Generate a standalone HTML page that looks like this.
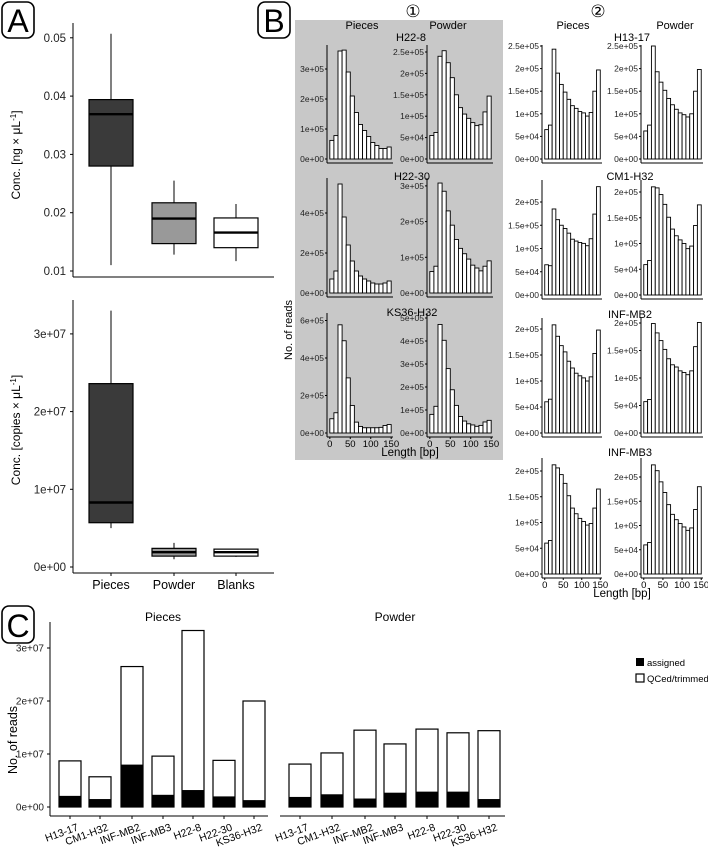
<!DOCTYPE html>
<html><head><meta charset="utf-8"><style>
html,body{margin:0;padding:0;background:#fff;}
svg{display:block;font-family:"Liberation Sans",sans-serif;}
</style></head><body>
<svg id="fig" width="708" height="851" viewBox="0 0 708 851" xmlns="http://www.w3.org/2000/svg">
<rect x="0" y="0" width="708" height="851" fill="#fff"/>
<rect x="295" y="20" width="208" height="440" fill="#c8c8c8"/>
<g><rect x="2" y="2" width="32" height="36" rx="7" fill="#fff" stroke="#000" stroke-width="1.6"/><text x="18" y="32" font-size="32" text-anchor="middle">A</text></g>
<g><rect x="258" y="2" width="32" height="36" rx="7" fill="#fff" stroke="#000" stroke-width="1.6"/><text x="274" y="32" font-size="32" text-anchor="middle">B</text></g>
<g><rect x="2" y="606" width="32" height="37" rx="7" fill="#fff" stroke="#000" stroke-width="1.6"/><text x="18" y="637" font-size="32" text-anchor="middle">C</text></g>
<text x="413" y="17" font-size="17" text-anchor="middle">①</text>
<text x="598" y="17" font-size="17" text-anchor="middle">②</text>
<g id="A"></g><g id="B"></g><g id="C"></g>
</svg>
<script>
// ---------- Panel A data ----------
const boxCats = ["Pieces","Powder","Blanks"];
const concMin = [0.011,0.0128,0.0117];
const concQ1 = [0.028,0.0147,0.014];
const concMed = [0.0369,0.019,0.0166];
const concQ3 = [0.0394,0.0217,0.0191];
const concMax = [0.0507,0.0255,0.0215];
const concTicks = [0.01,0.02,0.03,0.04,0.05];
const copMin = [5.0e6,1.0e6,1.3e6];
const copQ1 = [5.7e6,1.4e6,1.4e6];
const copMed = [8.3e6,1.9e6,1.9e6];
const copQ3 = [2.36e7,2.4e6,2.3e6];
const copMax = [3.3e7,3.1e6,2.3e6];
const copTicks = [0,1e7,2e7,3e7];
const copTickLabels = ["0e+00","1e+07","2e+07","3e+07"];
// ---------- Panel B data (thousands of reads per 10 bp bin) ----------
const lenTicks = [0,50,100,150];
const h22_8_pieces = [62,78,360,363,290,210,155,115,95,75,55,45,35,35,40];
const h22_8_powder = [55,62,240,253,225,190,150,120,105,95,85,78,80,110,147];
const h22_30_pieces = [70,110,545,380,240,160,110,85,70,60,50,45,45,50,60];
const h22_30_powder = [60,75,308,285,230,190,150,125,110,95,78,70,62,75,90];
const ks36_pieces = [76,108,577,492,294,147,58,35,28,28,28,28,30,40,45];
const ks36_powder = [81,116,472,403,280,188,120,72,52,40,35,29,33,48,55];
const h13_pieces = [65,75,243,190,165,148,132,118,112,105,102,95,103,150,197];
const h13_powder = [62,75,250,193,170,152,134,120,110,102,98,93,100,150,198];
const cm1_pieces = [65,63,185,162,150,143,133,120,116,113,111,106,121,174,233];
const cm1_powder = [59,67,210,208,195,176,151,128,115,107,100,90,95,135,175];
const mb2_pieces = [60,65,208,186,168,156,138,125,115,110,106,100,108,153,198];
const mb2_powder = [57,61,199,182,168,152,135,124,120,113,110,106,113,157,201];
const mb3_pieces = [60,65,212,206,193,176,152,128,117,108,102,95,98,128,165];
const mb3_powder = [60,65,225,213,190,168,143,123,112,104,97,90,95,133,180];
// ---------- Panel C data ----------
const samples = ["H13-17","CM1-H32","INF-MB2","INF-MB3","H22-8","H22-30","KS36-H32"];
const piecesTotal = [8.7e6,5.7e6,2.65e7,9.6e6,3.33e7,8.8e6,2.0e7];
const piecesAssigned = [2.1e6,1.5e6,8.0e6,2.3e6,3.2e6,2.0e6,1.3e6];
const powderTotal = [8.1e6,10.2e6,14.5e6,11.9e6,14.7e6,14.0e6,14.4e6];
const powderAssigned = [1.9e6,2.4e6,1.6e6,2.7e6,2.9e6,2.9e6,1.5e6];
const readTicks = [0,1e7,2e7,3e7];
const readTickLabels = ["0e+00","1e+07","2e+07","3e+07"];

const NS="http://www.w3.org/2000/svg";
function mk(parent,tag,attrs,txt){const e=document.createElementNS(NS,tag);for(const k in attrs)e.setAttribute(k,attrs[k]);if(txt!==undefined)e.textContent=txt;parent.appendChild(e);return e;}

// ---------- Panel A ----------
const A=document.getElementById('A');
function boxplot(g,yScale,mn,q1,md,q3,mx,fills,names){
  const cx=[111,174,236];
  for(let i=0;i<3;i++){
    const w=mk(g,'line',{x1:cx[i],x2:cx[i],y1:yScale(mx[i]),y2:yScale(mn[i]),stroke:'#000','stroke-width':1});
    
    
    const b=mk(g,'rect',{x:cx[i]-22,y:yScale(q3[i]),width:44,height:yScale(q1[i])-yScale(q3[i]),fill:fills[i],stroke:'#000','stroke-width':1.2});
    
    
    const m=mk(g,'line',{x1:cx[i]-22,x2:cx[i]+22,y1:yScale(md[i]),y2:yScale(md[i]),stroke:'#000','stroke-width':2.4});
    
    
  }
}
const fills=['#3a3a3a','#999999','#ffffff'];
const yConc=v=>271-(v-0.01)*5830;
mk(A,'line',{x1:73,x2:73,y1:23,y2:277,stroke:'#000'});
mk(A,'line',{x1:73,x2:274,y1:277,y2:277,stroke:'#000'});
concTicks.forEach(t=>{mk(A,'line',{x1:70,x2:73,y1:yConc(t),y2:yConc(t),stroke:'#000'});
  const l=mk(A,'text',{x:66,y:yConc(t)+4,'font-size':11.5,'text-anchor':'end',fill:'#222'},t.toFixed(2));
  });
boxplot(A,yConc,concMin,concQ1,concMed,concQ3,concMax,fills,'conc');
const t1=mk(A,'text',{x:0,y:0,'font-size':12,'text-anchor':'middle',transform:'translate(20,155) rotate(-90)'});
t1.innerHTML='Conc. [ng × μL<tspan dy="-4" font-size="8">-1</tspan><tspan dy="4">]</tspan>';


const yCop=v=>567-v*7.77e-6;
mk(A,'line',{x1:73,x2:73,y1:300,y2:573,stroke:'#000'});
mk(A,'line',{x1:73,x2:274,y1:573,y2:573,stroke:'#000'});
copTicks.forEach((t,i)=>{mk(A,'line',{x1:70,x2:73,y1:yCop(t),y2:yCop(t),stroke:'#000'});
  const l=mk(A,'text',{x:66,y:yCop(t)+4,'font-size':11.5,'text-anchor':'end',fill:'#222'},copTickLabels[i]);
  });
boxplot(A,yCop,copMin,copQ1,copMed,copQ3,copMax,fills,'copies');
[111,174,236].forEach((x,i)=>{mk(A,'line',{x1:x,x2:x,y1:573,y2:576,stroke:'#000'});
  const l=mk(A,'text',{x:x,y:589,'font-size':12.5,'text-anchor':'middle'},boxCats[i]);
  });
const t2=mk(A,'text',{x:0,y:0,'font-size':12,'text-anchor':'middle',transform:'translate(20,430) rotate(-90)'});
t2.innerHTML='Conc. [copies × μL<tspan dy="-4" font-size="8">-1</tspan><tspan dy="4">]</tspan>';


// ---------- Panel B ----------
const B=document.getElementById('B');
function fmt(v){if(v===0)return '0e+00';let e=Math.floor(Math.log10(v)+1e-9);let m=v/Math.pow(10,e);m=Math.round(m*10)/10;return m+'e+'+String(e).padStart(2,'0');}
function hist(name,data,x0,W,zeroY,topY,pxPer1e5,tickStep,showX){
  const g=mk(B,'g',{});
  
  
  const xs=bp=>x0+2+(bp+2)*(W-3)/154;
  const ys=k=>zeroY-k*1000*pxPer1e5/1e5;
  mk(g,'line',{x1:x0,x2:x0,y1:topY,y2:zeroY+4,stroke:'#000','stroke-width':1});
  mk(g,'line',{x1:x0,x2:x0+W,y1:zeroY+4,y2:zeroY+4,stroke:'#000','stroke-width':1});
  data.forEach((v,i)=>{
    const r=mk(g,'rect',{x:xs(i*10),y:ys(v),width:xs(10)-xs(0),height:zeroY-ys(v),fill:'#fff',stroke:'#000','stroke-width':0.9});
    
    
  });
  const maxv=(zeroY-topY)/pxPer1e5*1e5;
  for(let t=0;t<=maxv+1;t+=tickStep){
    const y=zeroY-t*pxPer1e5/1e5;
    mk(g,'line',{x1:x0-2,x2:x0,y1:y,y2:y,stroke:'#000'});
    mk(g,'text',{x:x0-3,y:y+3,'font-size':8.5,'text-anchor':'end',fill:'#222'},fmt(t));
  }
  if(showX){lenTicks.forEach(t=>{const x=xs(t);mk(g,'line',{x1:x,x2:x,y1:zeroY+4,y2:zeroY+6,stroke:'#000'});
    mk(g,'text',{x:x,y:zeroY+14,'font-size':9.5,'text-anchor':'middle'},t);});}
}
hist('h22-8-pieces',h22_8_pieces,327,66,159,45,30,1e5,false);
hist('h22-8-powder',h22_8_powder,427,66,159,45,42.8,5e4,false);
hist('h22-30-pieces',h22_30_pieces,327,66,293,178,20,2e5,false);
hist('h22-30-powder',h22_30_powder,427,66,293,178,35.7,1e5,false);
hist('ks36-h32-pieces',ks36_pieces,327,66,433,313,18.75,2e5,true);
hist('ks36-h32-powder',ks36_powder,427,66,433,313,23,1e5,true);
hist('h13-17-pieces',h13_pieces,542,60,159,45,45.2,5e4,false);
hist('h13-17-powder',h13_powder,641,62,159,45,45.2,5e4,false);
hist('cm1-h32-pieces',cm1_pieces,542,60,295,180,46.5,5e4,false);
hist('cm1-h32-powder',cm1_powder,641,62,295,180,51.5,5e4,false);
hist('inf-mb2-pieces',mb2_pieces,542,60,433,318,52,5e4,false);
hist('inf-mb2-powder',mb2_powder,641,62,433,318,55,5e4,false);
hist('inf-mb3-pieces',mb3_pieces,542,60,574,458,51.5,5e4,true);
hist('inf-mb3-powder',mb3_powder,641,62,574,458,48.5,5e4,true);
const bt=[["Pieces",362,29],["Powder",448,29],["Pieces",573,29],["Powder",675,29],
  ["H22-8",411,41],["H22-30",412,180],["KS36-H32",412,316],["H13-17",632,41],["CM1-H32",630,180],["INF-MB2",630,318],["INF-MB3",630,456],
  ["Length [bp]",410,456],["Length [bp]",622,597]];
bt.forEach(([s,x,y])=>{const t=mk(B,'text',{x:x,y:y,'font-size':s.startsWith('Length')?11.5:11,'text-anchor':'middle'},s);
  });
const nr=mk(B,'text',{x:0,y:0,'font-size':11,'text-anchor':'middle',transform:'translate(292,330) rotate(-90)'},'No. of reads');


// ---------- Panel C ----------
const C=document.getElementById('C');
const yR=v=>807-v*5.3e-6;
mk(C,'line',{x1:50,x2:50,y1:622,y2:816,stroke:'#000'});
mk(C,'line',{x1:50,x2:268,y1:816,y2:816,stroke:'#000'});
mk(C,'line',{x1:280,x2:505,y1:816,y2:816,stroke:'#000'});
readTicks.forEach((t,i)=>{mk(C,'line',{x1:47,x2:50,y1:yR(t),y2:yR(t),stroke:'#000'});
  const l=mk(C,'text',{x:44,y:yR(t)+3.5,'font-size':10,'text-anchor':'end',fill:'#222'},readTickLabels[i]);
  });
function stack(tot,asg,cx,grp){
  samples.forEach((s,i)=>{
    const w=mk(C,'rect',{x:cx[i]-11,y:yR(tot[i]),width:22,height:yR(0)-yR(tot[i]),fill:'#fff',stroke:'#000','stroke-width':1.2});
    
    
    const a=mk(C,'rect',{x:cx[i]-11,y:yR(asg[i]),width:22,height:yR(0)-yR(asg[i]),fill:'#000'});
    
    
    mk(C,'line',{x1:cx[i],x2:cx[i],y1:816,y2:819,stroke:'#000'});
    const l=mk(C,'text',{x:cx[i]+9,y:830,'font-size':10.5,'text-anchor':'end',transform:'rotate(-20 '+(cx[i]+9)+' 830)'},s);
    
    
  });
}
stack(piecesTotal,piecesAssigned,[70,100,132,163,193,224,254],'pieces');
stack(powderTotal,powderAssigned,[300,332,365,395,427,458,489],'powder');
[["Pieces",163],["Powder",395]].forEach(([s,x])=>{const t=mk(C,'text',{x:x,y:621,'font-size':12,'text-anchor':'middle'},s);
  });
const yt=mk(C,'text',{x:0,y:0,'font-size':12.5,'text-anchor':'middle',transform:'translate(17,740) rotate(-90)'},'No. of reads');

const lg=mk(C,'g',{});


mk(lg,'rect',{x:636,y:658,width:8,height:8,fill:'#000'});
mk(lg,'text',{x:647,y:666,'font-size':9.5},'assigned');
mk(lg,'rect',{x:636,y:674,width:8,height:8,fill:'#fff',stroke:'#000','stroke-width':1.2});
mk(lg,'text',{x:647,y:682,'font-size':9.5},'QCed/trimmed');
</script>
</body></html>
